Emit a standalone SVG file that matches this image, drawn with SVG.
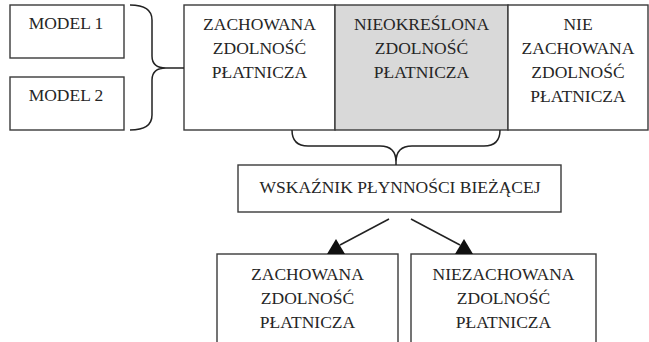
<svg xmlns="http://www.w3.org/2000/svg" width="649" height="342" viewBox="0 0 649 342">
<style>
.box{fill:#fff;stroke:#3a3a3a;stroke-width:1.4}
.gray{fill:#d9d9d9;stroke:#3a3a3a;stroke-width:1.4}
.t{font-family:"Liberation Serif","Times New Roman",serif;font-size:17.5px;fill:#262626;text-anchor:middle}
.ln{fill:none;stroke:#222;stroke-width:1.5}
.ah{fill:#111}
</style>
<rect width="649" height="342" fill="#fff"/>
<g id="model1"><rect class="box" x="10" y="5" width="114" height="53"/><text class="t" x="66" y="29">MODEL 1</text></g>
<g id="model2"><rect class="box" x="10" y="77" width="114" height="53"/><text class="t" x="66" y="101">MODEL 2</text></g>
<g id="zachowana-top"><rect class="box" x="184" y="5" width="151" height="125"/>
<text class="t" x="259.5" y="30">ZACHOWANA</text><text class="t" x="259.5" y="54">ZDOLNOŚĆ</text><text class="t" x="259.5" y="78">PŁATNICZA</text></g>
<g id="nieokreslona"><rect class="gray" x="335" y="5" width="173" height="125"/>
<text class="t" x="421.5" y="30">NIEOKREŚLONA</text><text class="t" x="421.5" y="54">ZDOLNOŚĆ</text><text class="t" x="421.5" y="78">PŁATNICZA</text></g>
<g id="nie-zachowana"><rect class="box" x="508" y="5" width="140" height="125"/>
<text class="t" x="578" y="30">NIE</text><text class="t" x="578" y="54">ZACHOWANA</text><text class="t" x="578" y="78">ZDOLNOŚĆ</text><text class="t" x="578" y="102">PŁATNICZA</text></g>
<g id="wskaznik"><rect class="box" x="238" y="165" width="323" height="47"/><text class="t" x="400" y="193">WSKAŹNIK PŁYNNOŚCI BIEŻĄCEJ</text></g>
<g id="zachowana-bottom"><rect class="box" x="217" y="254" width="181" height="100"/>
<text class="t" x="307.5" y="280">ZACHOWANA</text><text class="t" x="307.5" y="304">ZDOLNOŚĆ</text><text class="t" x="307.5" y="328">PŁATNICZA</text></g>
<g id="niezachowana-bottom"><rect class="box" x="411" y="254" width="185" height="100"/>
<text class="t" x="503.5" y="280">NIEZACHOWANA</text><text class="t" x="503.5" y="304">ZDOLNOŚĆ</text><text class="t" x="503.5" y="328">PŁATNICZA</text></g>
<g id="connectors">
<path class="ln" d="M130,5 Q152,5 152,20 L152,56 Q152,68 166,68 Q152,68 152,80 L152,115 Q152,130 130,130 M166,68 L184,68"/>
<path class="ln" d="M292,130 Q292,146 308,146 L380,146 Q396,146 396,162 Q396,146 412,146 L484,146 Q500,146 500,130 M396,162 L396,165"/>
<path class="ln" d="M389,219 L340,245"/>
<polygon class="ah" points="336,239 327,254 345,254"/>
<path class="ln" d="M411,219 L460,245"/>
<polygon class="ah" points="464,239 455,254 473,254"/>
</g>
</svg>
